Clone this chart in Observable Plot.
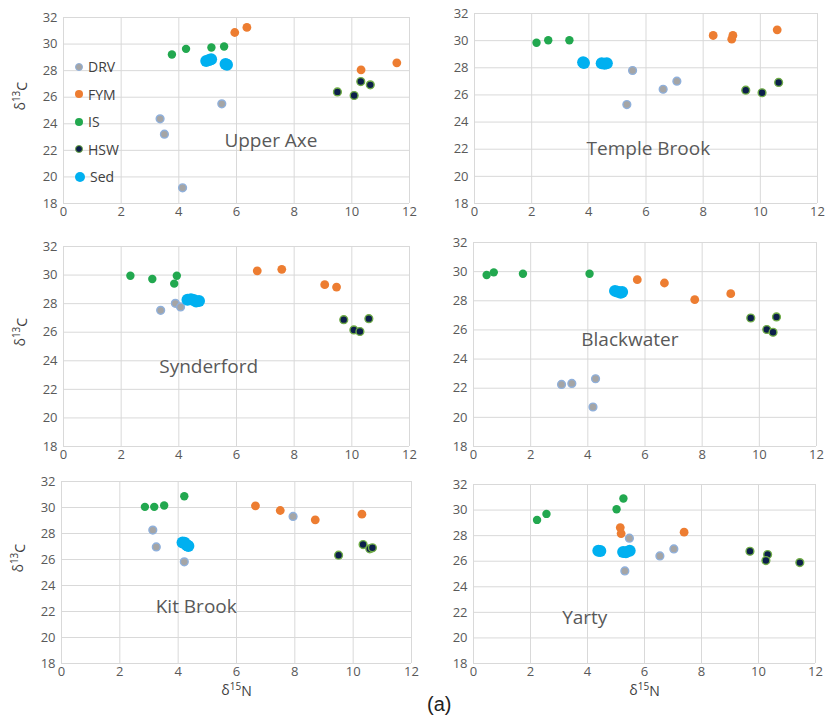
<!DOCTYPE html>
<html><head><meta charset="utf-8">
<script src="https://cdn.jsdelivr.net/npm/d3@7"></script>
<script src="https://cdn.jsdelivr.net/npm/@observablehq/plot@0.6"></script>
<style>
body{margin:0;background:#fff;}
#chart{position:relative;width:830px;height:718px;overflow:hidden;font-family:"Open Sans",sans-serif;background:#fff;}
#chart svg{position:absolute;overflow:visible;}
#legend{position:absolute;left:75px;top:53px;font-family:"Open Sans",sans-serif;font-size:14px;color:#404040;}
#legend .row{display:flex;align-items:center;height:27.5px;}
#legend .m{display:inline-block;border-radius:50%;box-sizing:border-box;margin-right:5px;}
#caption{position:absolute;left:427px;top:693px;font-family:"Liberation Sans",Arial,sans-serif;font-size:20px;color:#222;}
</style></head><body>
<div id="chart"></div>
<script>
const seriesNames = ["DRV", "FYM", "IS", "HSW", "Sed"];
const xTicks = [0, 2, 4, 6, 8, 10, 12];
const yTicks = [18, 20, 22, 24, 26, 28, 30, 32];
const siteNames = ["Upper Axe", "Temple Brook", "Synderford", "Blackwater", "Kit Brook", "Yarty"];

// [series, δ15N, δ13C]
const upperAxe = [
  ["DRV", 3.35, 24.37], ["DRV", 3.50, 23.22], ["DRV", 4.13, 19.18], ["DRV", 5.49, 25.5],
  ["FYM", 5.94, 30.87], ["FYM", 6.36, 31.25], ["FYM", 10.32, 28.06], ["FYM", 11.56, 28.59],
  ["IS", 3.76, 29.22], ["IS", 4.25, 29.64], ["IS", 5.13, 29.74], ["IS", 5.57, 29.82],
  ["HSW", 9.50, 26.4], ["HSW", 10.08, 26.13], ["HSW", 10.31, 27.18], ["HSW", 10.64, 26.93],
  ["Sed", 4.95, 28.72], ["Sed", 5.05, 28.8], ["Sed", 5.12, 28.85], ["Sed", 5.62, 28.5], ["Sed", 5.67, 28.45]
];
const templeBrook = [
  ["DRV", 5.53, 27.8], ["DRV", 5.33, 25.29], ["DRV", 6.60, 26.42], ["DRV", 7.08, 27.01],
  ["FYM", 8.35, 30.38], ["FYM", 9.04, 30.38], ["FYM", 9.00, 30.11], ["FYM", 10.59, 30.8],
  ["IS", 2.17, 29.84], ["IS", 2.58, 30.03], ["IS", 3.32, 30.03],
  ["HSW", 9.49, 26.35], ["HSW", 10.06, 26.16], ["HSW", 10.64, 26.92],
  ["Sed", 3.80, 28.41], ["Sed", 3.83, 28.36], ["Sed", 4.45, 28.33], ["Sed", 4.55, 28.3], ["Sed", 4.63, 28.33]
];
const synderford = [
  ["DRV", 3.37, 27.53], ["DRV", 3.88, 28.02], ["DRV", 4.06, 27.77],
  ["FYM", 6.72, 30.3], ["FYM", 7.57, 30.4], ["FYM", 9.06, 29.33], ["FYM", 9.47, 29.16],
  ["IS", 2.32, 29.95], ["IS", 3.08, 29.72], ["IS", 3.93, 29.95], ["IS", 3.84, 29.4],
  ["HSW", 9.72, 26.88], ["HSW", 10.07, 26.16], ["HSW", 10.28, 26.05], ["HSW", 10.59, 26.95],
  ["Sed", 4.30, 28.28], ["Sed", 4.42, 28.3], ["Sed", 4.52, 28.25], ["Sed", 4.60, 28.15], ["Sed", 4.70, 28.18]
];
const blackwater = [
  ["DRV", 3.08, 22.26], ["DRV", 3.44, 22.33], ["DRV", 4.27, 22.65], ["DRV", 4.18, 20.71],
  ["FYM", 5.73, 29.45], ["FYM", 6.68, 29.22], ["FYM", 7.74, 28.08], ["FYM", 9.0, 28.49],
  ["IS", 0.46, 29.77], ["IS", 0.71, 29.95], ["IS", 1.73, 29.86], ["IS", 4.06, 29.86],
  ["HSW", 9.70, 26.82], ["HSW", 10.26, 26.03], ["HSW", 10.48, 25.84], ["HSW", 10.60, 26.89],
  ["Sed", 4.95, 28.68], ["Sed", 5.05, 28.62], ["Sed", 5.15, 28.55], ["Sed", 5.2, 28.6]
];
const kitBrook = [
  ["DRV", 3.13, 28.26], ["DRV", 3.25, 26.97], ["DRV", 4.21, 25.82], ["DRV", 7.94, 29.31],
  ["FYM", 6.65, 30.13], ["FYM", 7.50, 29.77], ["FYM", 8.70, 29.05], ["FYM", 10.30, 29.49],
  ["IS", 2.86, 30.05], ["IS", 3.18, 30.05], ["IS", 3.52, 30.15], ["IS", 4.21, 30.87],
  ["HSW", 9.50, 26.33], ["HSW", 10.34, 27.15], ["HSW", 10.57, 26.82], ["HSW", 10.66, 26.9],
  ["Sed", 4.15, 27.3], ["Sed", 4.22, 27.28], ["Sed", 4.3, 27.1], ["Sed", 4.35, 27.03]
];
const yarty = [
  ["DRV", 5.47, 27.8], ["DRV", 5.31, 25.24], ["DRV", 6.54, 26.41], ["DRV", 7.03, 26.96],
  ["FYM", 5.15, 28.63], ["FYM", 5.18, 28.16], ["FYM", 7.39, 28.27],
  ["IS", 2.23, 29.23], ["IS", 2.56, 29.70], ["IS", 5.02, 30.07], ["IS", 5.26, 30.90],
  ["HSW", 9.70, 26.78], ["HSW", 10.32, 26.52], ["HSW", 10.26, 26.05], ["HSW", 11.45, 25.89],
  ["Sed", 4.38, 26.82], ["Sed", 4.45, 26.8], ["Sed", 5.25, 26.72], ["Sed", 5.35, 26.7], ["Sed", 5.48, 26.82]
];
const siteData = [upperAxe, templeBrook, synderford, blackwater, kitBrook, yarty];

// layout (not data): frame boxes in pixels and label anchors in data units
const frames = [
  {L: 63, R: 409, T: 17, B: 203}, {L: 474, R: 817, T: 13, B: 203},
  {L: 63, R: 409, T: 246, B: 446}, {L: 473, R: 816, T: 242, B: 446},
  {L: 61, R: 411, T: 481, B: 663}, {L: 473, R: 815, T: 484, B: 663}
];
const labelAnchors = [[5.58, 22.22], [3.92, 21.54], [3.32, 23.18], [3.77, 24.88], [3.23, 21.9], [3.11, 21.1]];
const styles = {
  DRV: {fill: "#a5a5a5", stroke: "#8fb0dc", strokeWidth: 1.4, r: 3.9},
  FYM: {fill: "#ed7d31", stroke: "none", strokeWidth: 0, r: 4.4},
  IS:  {fill: "#22a84f", stroke: "none", strokeWidth: 0, r: 4.2},
  HSW: {fill: "#0c1f4a", stroke: "#70ad47", strokeWidth: 1.4, r: 3.9},
  Sed: {fill: "#00b0f0", stroke: "none", strokeWidth: 0, r: 6}
};

const ML = 63, MR = 12, MT = 20, MB = 50;
const chart = document.getElementById("chart");

frames.forEach((f, i) => {
  const data = siteData[i];
  const marks = [
    Plot.ruleX(xTicks, {x: d => d, stroke: "#d9d9d9", strokeWidth: 1}),
    Plot.ruleY(yTicks, {y: d => d, stroke: "#d9d9d9", strokeWidth: 1}),
    Plot.axisX({ticks: xTicks, tickSize: 0, tickPadding: 3, label: null, fontSize: 13, fill: "#595959"}),
    Plot.axisY({ticks: yTicks, tickSize: 0, tickPadding: 6, label: null, fontSize: 13, fill: "#595959"}),
    Plot.text([siteNames[i]], {x: labelAnchors[i][0], y: labelAnchors[i][1], text: d => d,
      textAnchor: "start", lineAnchor: "bottom", fontSize: 19, fill: "#595959"})
  ];
  seriesNames.forEach(s => {
    const st = styles[s];
    marks.push(Plot.dot(data.filter(d => d[0] === s), {
      x: d => d[1], y: d => d[2], r: st.r, fill: st.fill, stroke: st.stroke, strokeWidth: st.strokeWidth
    }));
  });
  if (i % 2 === 0) {
    marks.push(Plot.text(["δ13C"], {frameAnchor: "left", dx: -43, rotate: -90, text: d => d,
      fontSize: 14, fill: "#404040", className: "ylab"}));
  }
  if (i >= 4) {
    marks.push(Plot.text(["δ15N"], {frameAnchor: "bottom", dy: 31, text: d => d,
      fontSize: 14, fill: "#404040", className: "xlab"}));
  }
  const p = Plot.plot({
    width: f.R - f.L + ML + MR,
    height: f.B - f.T + MT + MB,
    marginLeft: ML, marginRight: MR, marginTop: MT, marginBottom: MB,
    style: {background: "none", fontFamily: "Open Sans, sans-serif", overflow: "visible"},
    x: {domain: [0, 12]},
    y: {domain: [18, 32]},
    marks
  });
  p.style.left = (f.L - ML) + "px";
  p.style.top = (f.T - MT) + "px";
  p.style.background = "none";
  chart.appendChild(p);
});

// superscripts in axis labels
d3.selectAll("#chart text").each(function() {
  const t = this.textContent;
  if (t === "δ13C" || t === "δ15N") {
    const sup = t.slice(1, 3), last = t.slice(3);
    const el = d3.select(this);
    const tspan = el.select("tspan").empty() ? el : el.select("tspan");
    tspan.text(null);
    tspan.append("tspan").text("δ");
    tspan.append("tspan").attr("dy", "-0.45em").attr("font-size", "10px").text(sup);
    tspan.append("tspan").attr("dy", "0.45em").text(last);
  }
});

// legend inside the first panel
const legend = document.createElement("div");
legend.id = "legend";
seriesNames.forEach(s => {
  const st = styles[s];
  const row = document.createElement("div");
  row.className = "row";
  const m = document.createElement("span");
  m.className = "m";
  const size = s === "Sed" ? 10 : 8;
  m.style.width = size + "px"; m.style.height = size + "px";
  m.style.background = st.fill;
  if (st.stroke !== "none") m.style.border = "1.4px solid " + st.stroke;
  const lab = document.createElement("span");
  lab.textContent = s;
  row.appendChild(m); row.appendChild(lab);
  legend.appendChild(row);
});
chart.appendChild(legend);

const cap = document.createElement("div");
cap.id = "caption";
cap.textContent = "(a)";
chart.appendChild(cap);
</script>
</body></html>
